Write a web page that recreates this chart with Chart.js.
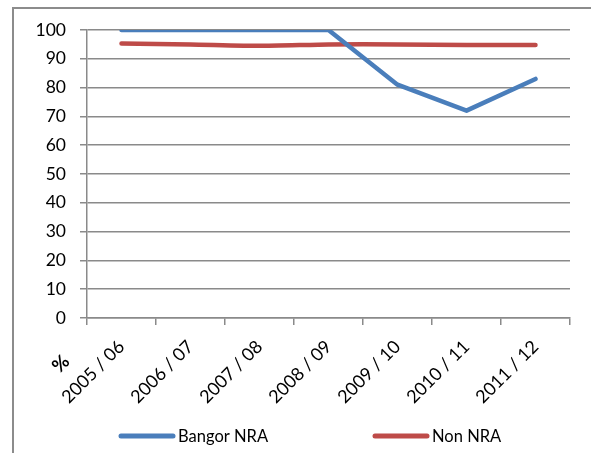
<!DOCTYPE html>
<html>
<head>
<meta charset="utf-8">
<script src="https://cdn.jsdelivr.net/npm/chart.js@4.4.0/dist/chart.umd.min.js"></script>
<style>
html,body{margin:0;padding:0;background:#fff;}
#wrap{position:relative;width:591px;height:453px;overflow:hidden;background:#fff;}
#frame{position:absolute;left:12px;top:7px;width:700px;height:600px;border-left:2px solid #8c8c8c;border-top:2px solid #8c8c8c;}
canvas{position:absolute;left:0;top:0;}
</style>
</head>
<body>
<div id="wrap">
<div id="frame"></div>
<canvas id="c" width="591" height="453"></canvas>
</div>
<script>
const categories = ["2005 / 06","2006 / 07","2007 / 08","2008 / 09","2009 / 10","2010 / 11","2011 / 12"];
const bangorNRA = [100, 100, 100, 100, 81, 72, 83];
const nonNRA = [95.3, 95, 94.5, 95, 95, 94.8, 94.8];
const seriesNames = ["Bangor NRA", "Non NRA"];
const seriesColors = ["#4A7EBB", "#BE4B48"];
const yTicks = [0,10,20,30,40,50,60,70,80,90,100];
const axisTitle = "%";

const FONT = "Lato, 'Liberation Sans', sans-serif";

const extras = {
  id: 'extras',
  afterDraw(chart) {
    const ctx = chart.ctx;
    ctx.save();
    // % label
    ctx.font = "bold 19px " + FONT;
    ctx.fillStyle = "#000";
    ctx.translate(61, 364);
    ctx.rotate(-Math.PI/4);
    ctx.textAlign = "center";
    ctx.textBaseline = "middle";
    ctx.fillText(axisTitle, 0, 0);
    ctx.restore();
    // legend
    const starts = [119, 373];
    ctx.save();
    chart.data.datasets.forEach((ds, i) => {
      const x = starts[i], y = 436;
      ctx.strokeStyle = ds.borderColor;
      ctx.lineWidth = 5;
      ctx.lineCap = 'round';
      ctx.beginPath();
      ctx.moveTo(x + 2, y);
      ctx.lineTo(x + 54, y);
      ctx.stroke();
      ctx.fillStyle = "#000";
      ctx.font = "16.5px " + FONT;
      ctx.textAlign = "left";
      ctx.textBaseline = "middle";
      ctx.fillText(ds.label, x + 59, y + 1);
    });
    ctx.restore();
  }
};

new Chart(document.getElementById('c'), {
  type: 'line',
  data: {
    labels: categories,
    datasets: [
      { label: seriesNames[0], data: bangorNRA, borderColor: seriesColors[0], backgroundColor: seriesColors[0], borderWidth: 4.5, pointRadius: 0, tension: 0, borderCapStyle: 'round', borderJoinStyle: 'round' },
      { label: seriesNames[1], data: nonNRA, borderColor: seriesColors[1], backgroundColor: seriesColors[1], borderWidth: 4.5, pointRadius: 0, tension: 0.2, borderCapStyle: 'round', borderJoinStyle: 'round' }
    ]
  },
  options: {
    responsive: false,
    animation: false,
    layout: { padding: { top: 30, right: 21, bottom: 0, left: 0 } },
    plugins: { legend: { display: false }, tooltip: { enabled: false }, title: { display: false } },
    scales: {
      x: {
        type: 'category',
        offset: true,
        grid: { display: true, offset: true, drawOnChartArea: false, drawTicks: true, tickLength: 7, color: '#8a8a8a', lineWidth: 1.5 },
        border: { display: true, color: '#8a8a8a', width: 1.5 },
        ticks: { minRotation: 45, maxRotation: 45, autoSkip: false, padding: 11, color: '#000', font: { family: FONT, size: 18 } },
        afterFit(scale) { scale.height = 135; }
      },
      y: {
        min: 0, max: 100,
        afterBuildTicks(scale) { scale.ticks = yTicks.map(v => ({ value: v })); },
        grid: { color: '#8a8a8a', lineWidth: 1.5, drawTicks: true, tickLength: 7 },
        border: { display: true, color: '#8a8a8a', width: 1.5 },
        ticks: { padding: 14, color: '#000', font: { family: FONT, size: 17.5 } },
        afterFit(scale) { scale.width = 87; }
      }
    }
  },
  plugins: [extras]
});
</script>
</body>
</html>
